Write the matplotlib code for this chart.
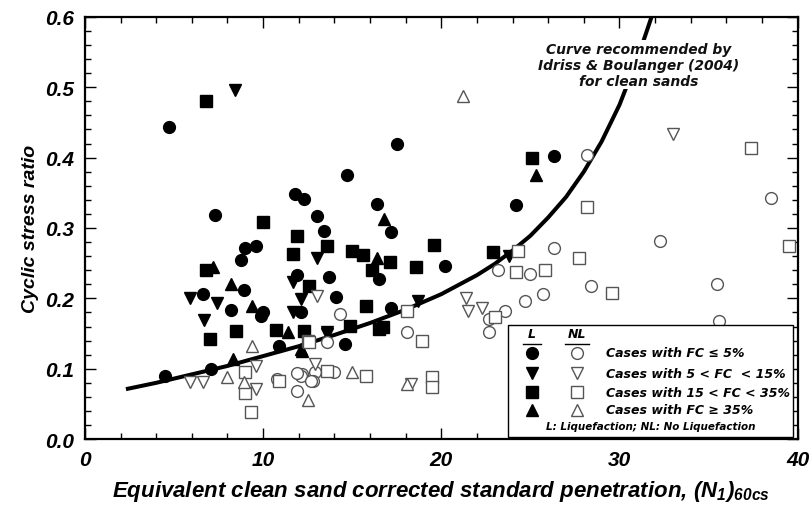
import numpy as np
import matplotlib.pyplot as plt
from matplotlib.patches import Rectangle
from matplotlib.ticker import MultipleLocator

plt.rcParams['font.family'] = ['Liberation Sans', 'DejaVu Sans']
plt.rcParams['mathtext.fontset'] = 'custom'
plt.rcParams['mathtext.rm'] = 'Liberation Sans:bold:italic'
plt.rcParams['mathtext.it'] = 'Liberation Sans:bold:italic'
plt.rcParams['mathtext.bf'] = 'Liberation Sans:bold:italic'

# Liquefaction (filled) cases
liq_fc5_n = [4.7, 7.3, 9.0, 9.6, 8.75, 8.9, 6.6, 8.2, 9.9, 4.5, 7.1, 10.9, 11.8, 12.3, 13.0, 13.4,
             14.7, 16.4, 17.2, 17.5, 11.9, 13.7, 16.5, 20.2, 14.1, 17.2, 14.6, 12.1, 24.2, 26.3, 10.0]
liq_fc5_crr = [0.443, 0.318, 0.272, 0.274, 0.254, 0.212, 0.206, 0.184, 0.175, 0.090, 0.100, 0.132, 0.349, 0.341,
               0.317, 0.296, 0.375, 0.334, 0.295, 0.420, 0.233, 0.230, 0.227, 0.246, 0.202, 0.186, 0.135, 0.180,
               0.332, 0.402, 0.180]

liq_fc15_n = [8.4, 5.9, 7.4, 6.7, 13.0, 11.7, 12.1, 11.7, 13.6, 18.7, 23.8, 13.6]
liq_fc15_crr = [0.496, 0.200, 0.194, 0.169, 0.258, 0.223, 0.199, 0.180, 0.152, 0.196, 0.260, 0.149]

liq_fc35_n = [6.8, 10.0, 11.9, 11.7, 6.8, 7.0, 8.5, 10.7, 12.3, 12.6, 13.6, 15.0, 15.6, 16.1, 19.6,
              17.1, 18.6, 22.9, 16.5, 15.8, 16.7, 14.9, 25.1]
liq_fc35_crr = [0.481, 0.308, 0.288, 0.263, 0.240, 0.142, 0.153, 0.155, 0.153, 0.217, 0.274, 0.267, 0.261,
                0.241, 0.276, 0.251, 0.244, 0.266, 0.156, 0.189, 0.159, 0.161, 0.400]

liq_fcgt_n = [8.2, 9.4, 11.4, 8.3, 12.2, 7.2, 16.8, 16.4, 12.1, 25.3]
liq_fcgt_crr = [0.220, 0.189, 0.152, 0.114, 0.125, 0.245, 0.313, 0.258, 0.128, 0.376]

# No liquefaction (open) cases
nl_fc5_n = [28.2, 38.5, 32.3, 26.3, 35.5, 28.4, 25.7, 24.7, 25.0, 35.6, 23.2, 23.6, 22.7, 22.7, 18.1,
            14.3, 13.6, 12.9, 14.0, 12.8, 12.2, 12.1, 11.9, 12.7, 11.9, 10.8]
nl_fc5_crr = [0.403, 0.342, 0.281, 0.272, 0.220, 0.217, 0.206, 0.196, 0.234, 0.168, 0.240, 0.182, 0.170,
              0.152, 0.152, 0.178, 0.138, 0.095, 0.095, 0.082, 0.092, 0.090, 0.069, 0.082, 0.094, 0.085]

nl_fc15_n = [33.0, 5.9, 6.6, 9.6, 9.6, 12.9, 13.0, 21.4, 21.5, 22.3, 18.3]
nl_fc15_crr = [0.433, 0.081, 0.081, 0.104, 0.071, 0.107, 0.204, 0.201, 0.182, 0.187, 0.078]

nl_fc35_n = [37.4, 28.2, 27.7, 25.8, 29.6, 39.5, 24.3, 24.2, 18.1, 18.9, 19.5, 19.5, 23.0, 12.5, 15.8,
             10.9, 9.0, 9.0, 9.3, 12.6, 13.6]
nl_fc35_crr = [0.414, 0.330, 0.258, 0.240, 0.207, 0.274, 0.268, 0.238, 0.182, 0.139, 0.088, 0.074, 0.173,
               0.139, 0.090, 0.082, 0.095, 0.065, 0.038, 0.138, 0.097]

nl_fcgt_n = [21.2, 9.4, 8.0, 8.9, 12.5, 15.0, 18.1]
nl_fcgt_crr = [0.487, 0.133, 0.088, 0.081, 0.055, 0.095, 0.078]

# Idriss & Boulanger (2004) clean sand curve
curve_n = [2.3, 4, 6, 8, 10, 12, 14, 16, 18, 20, 22, 23, 24, 25, 26, 27, 28, 29, 30, 31, 31.8]
curve_crr = [0.071, 0.080, 0.092, 0.104, 0.118, 0.132, 0.148, 0.165, 0.184, 0.206, 0.233, 0.249, 0.268,
             0.289, 0.315, 0.344, 0.380, 0.423, 0.475, 0.540, 0.600]

fig = plt.figure(figsize=(8.09, 5.10), dpi=100)
ax = fig.add_axes([0.105, 0.137, 0.881, 0.828])

ax.plot(curve_n, curve_crr, color='black', lw=2.9, solid_capstyle='butt', zorder=2)

ms = 8.5
ax.plot(liq_fc5_n, liq_fc5_crr, 'o', ms=ms, color='black', zorder=3)
ax.plot(liq_fc15_n, liq_fc15_crr, 'v', ms=ms + 0.5, color='black', zorder=3)
ax.plot(liq_fc35_n, liq_fc35_crr, 's', ms=ms - 0.5, color='black', zorder=3)
ax.plot(liq_fcgt_n, liq_fcgt_crr, '^', ms=ms + 0.5, color='black', zorder=3)

ax.plot(nl_fc5_n, nl_fc5_crr, 'o', ms=ms, mfc='white', mec='#555555', mew=1.0, zorder=3)
ax.plot(nl_fc15_n, nl_fc15_crr, 'v', ms=ms + 0.5, mfc='white', mec='#555555', mew=1.0, zorder=3)
ax.plot(nl_fc35_n, nl_fc35_crr, 's', ms=ms - 0.5, mfc='white', mec='#555555', mew=1.0, zorder=3)
ax.plot(nl_fcgt_n, nl_fcgt_crr, '^', ms=ms + 0.5, mfc='white', mec='#555555', mew=1.0, zorder=3)

ax.text(31.1, 0.532, 'Curve recommended by\nIdriss & Boulanger (2004)\nfor clean sands',
        ha='center', va='center', fontsize=10, fontweight='bold', style='italic', linespacing=1.2,
        family='DejaVu Sans', color='#111111',
        bbox=dict(facecolor='white', edgecolor='none', pad=1), zorder=4)

ax.set_xlim(0, 40)
ax.set_ylim(0, 0.6)
ax.xaxis.set_major_locator(MultipleLocator(10))
ax.xaxis.set_minor_locator(MultipleLocator(2))
ax.yaxis.set_major_locator(MultipleLocator(0.1))
ax.yaxis.set_minor_locator(MultipleLocator(0.02))
ax.tick_params(which='both', direction='in', top=True, right=True, width=1.0)
ax.tick_params(which='major', length=8, labelsize=15, pad=8)
ax.tick_params(which='minor', length=4)
ax.set_yticklabels([f'{v:.1f}' for v in ax.get_yticks()])
for lab in ax.get_xticklabels() + ax.get_yticklabels():
    lab.set_fontweight('bold')
    lab.set_style('italic')
for s in ax.spines.values():
    s.set_linewidth(1.6)

ax.set_xlabel('Equivalent clean sand corrected standard penetration, (N$_{1}$)$_{60cs}$',
              fontsize=16, fontweight='bold', style='italic', labelpad=6)
ax.set_ylabel('Cyclic stress ratio', fontsize=14, fontweight='bold', style='italic', labelpad=4)

# legend box drawn by hand
tr = ax.transAxes
ax.add_patch(Rectangle((0.593, 0.004), 0.40, 0.266, transform=tr, facecolor='white',
                       edgecolor='black', lw=1.0, zorder=5))
txt = dict(transform=tr, fontweight='bold', style='italic', family='DejaVu Sans', zorder=6)
ax.text(0.627, 0.249, 'L', ha='center', va='center', fontsize=9, **txt)
ax.text(0.690, 0.249, 'NL', ha='center', va='center', fontsize=9, **txt)
ax.plot([0.615, 0.640], [0.226, 0.226], color='black', lw=1, transform=tr, zorder=6)
ax.plot([0.673, 0.707], [0.226, 0.226], color='black', lw=1, transform=tr, zorder=6)
rows_y = [0.204, 0.156, 0.111, 0.069]
rows_m = ['o', 'v', 's', '^']
rows_t = ['Cases with FC \u2264 5%', 'Cases with 5 < FC  < 15%', 'Cases with 15 < FC < 35%',
          'Cases with FC \u2265 35%']
for yy, mk, tt in zip(rows_y, rows_m, rows_t):
    ax.plot(0.627, yy, mk, ms=ms, color='black', transform=tr, clip_on=False, zorder=6)
    ax.plot(0.690, yy, mk, ms=ms, mfc='white', mec='#555555', mew=1.0, transform=tr,
            clip_on=False, zorder=6)
    ax.text(0.731, yy, tt, ha='left', va='center', fontsize=9, **txt)
ax.text(0.794, 0.030, 'L: Liquefaction; NL: No Liquefaction', ha='center', va='center',
        fontsize=7.5, **txt)

fig.savefig('out.png', dpi=100)
